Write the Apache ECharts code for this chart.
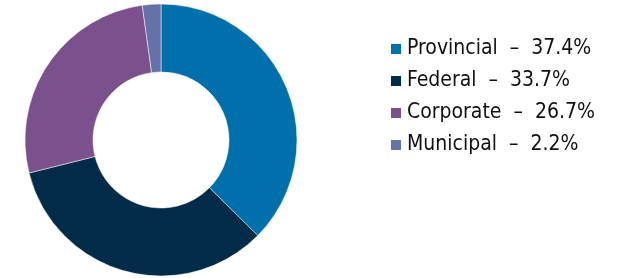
<!DOCTYPE html>
<html lang="en">
<head>
    <meta charset="UTF-8">
    <title>Holdings by issuer</title>
    <style>
        html,body{margin:0;padding:0;background:#fff;}
        #main{width:620px;height:278px;}
    </style>
    <script type="text/javascript" src="https://cdn.jsdelivr.net/npm/echarts@6/dist/echarts.min.js"></script>
</head>
<body>
<div id="main"></div>
</body>
<script>
    let names=['Provincial','Federal','Corporate','Municipal'];
    let values=[37.4,33.7,26.7,2.2];
    let colors=['#0070ad','#002b49','#7a518c','#6672a7'];

    let chart=echarts.init(document.getElementById('main'));
    let data=names.map((n,i)=>{
        return{
            name:n,
            value:values[i],
            itemStyle:{color:colors[i]}
        }
    });

    let option={
        animation:false,
        legend:{
            orient:'vertical',
            left:389,
            top:37,
            padding:0,
            icon:'rect',
            itemWidth:12,
            itemHeight:12,
            itemGap:8,
            data:names,
            textStyle:{
                fontFamily:'DejaVu Sans Condensed, sans-serif',
                fontSize:21,
                lineHeight:21,
                color:'#111',
                padding:[3,0,0,0]
            },
            formatter:function(n){
                return n+'  \u2013  '+values[names.indexOf(n)].toFixed(1)+'%';
            }
        },
        series:[
            {
                type:'pie',
                center:[161,140],
                radius:[68,136],
                startAngle:90,
                clockwise:true,
                label:{show:false},
                labelLine:{show:false},
                itemStyle:{borderColor:'#fff',borderWidth:0.5},
                data:data
            }
        ]
    };
    chart.setOption(option);
</script>
</html>
